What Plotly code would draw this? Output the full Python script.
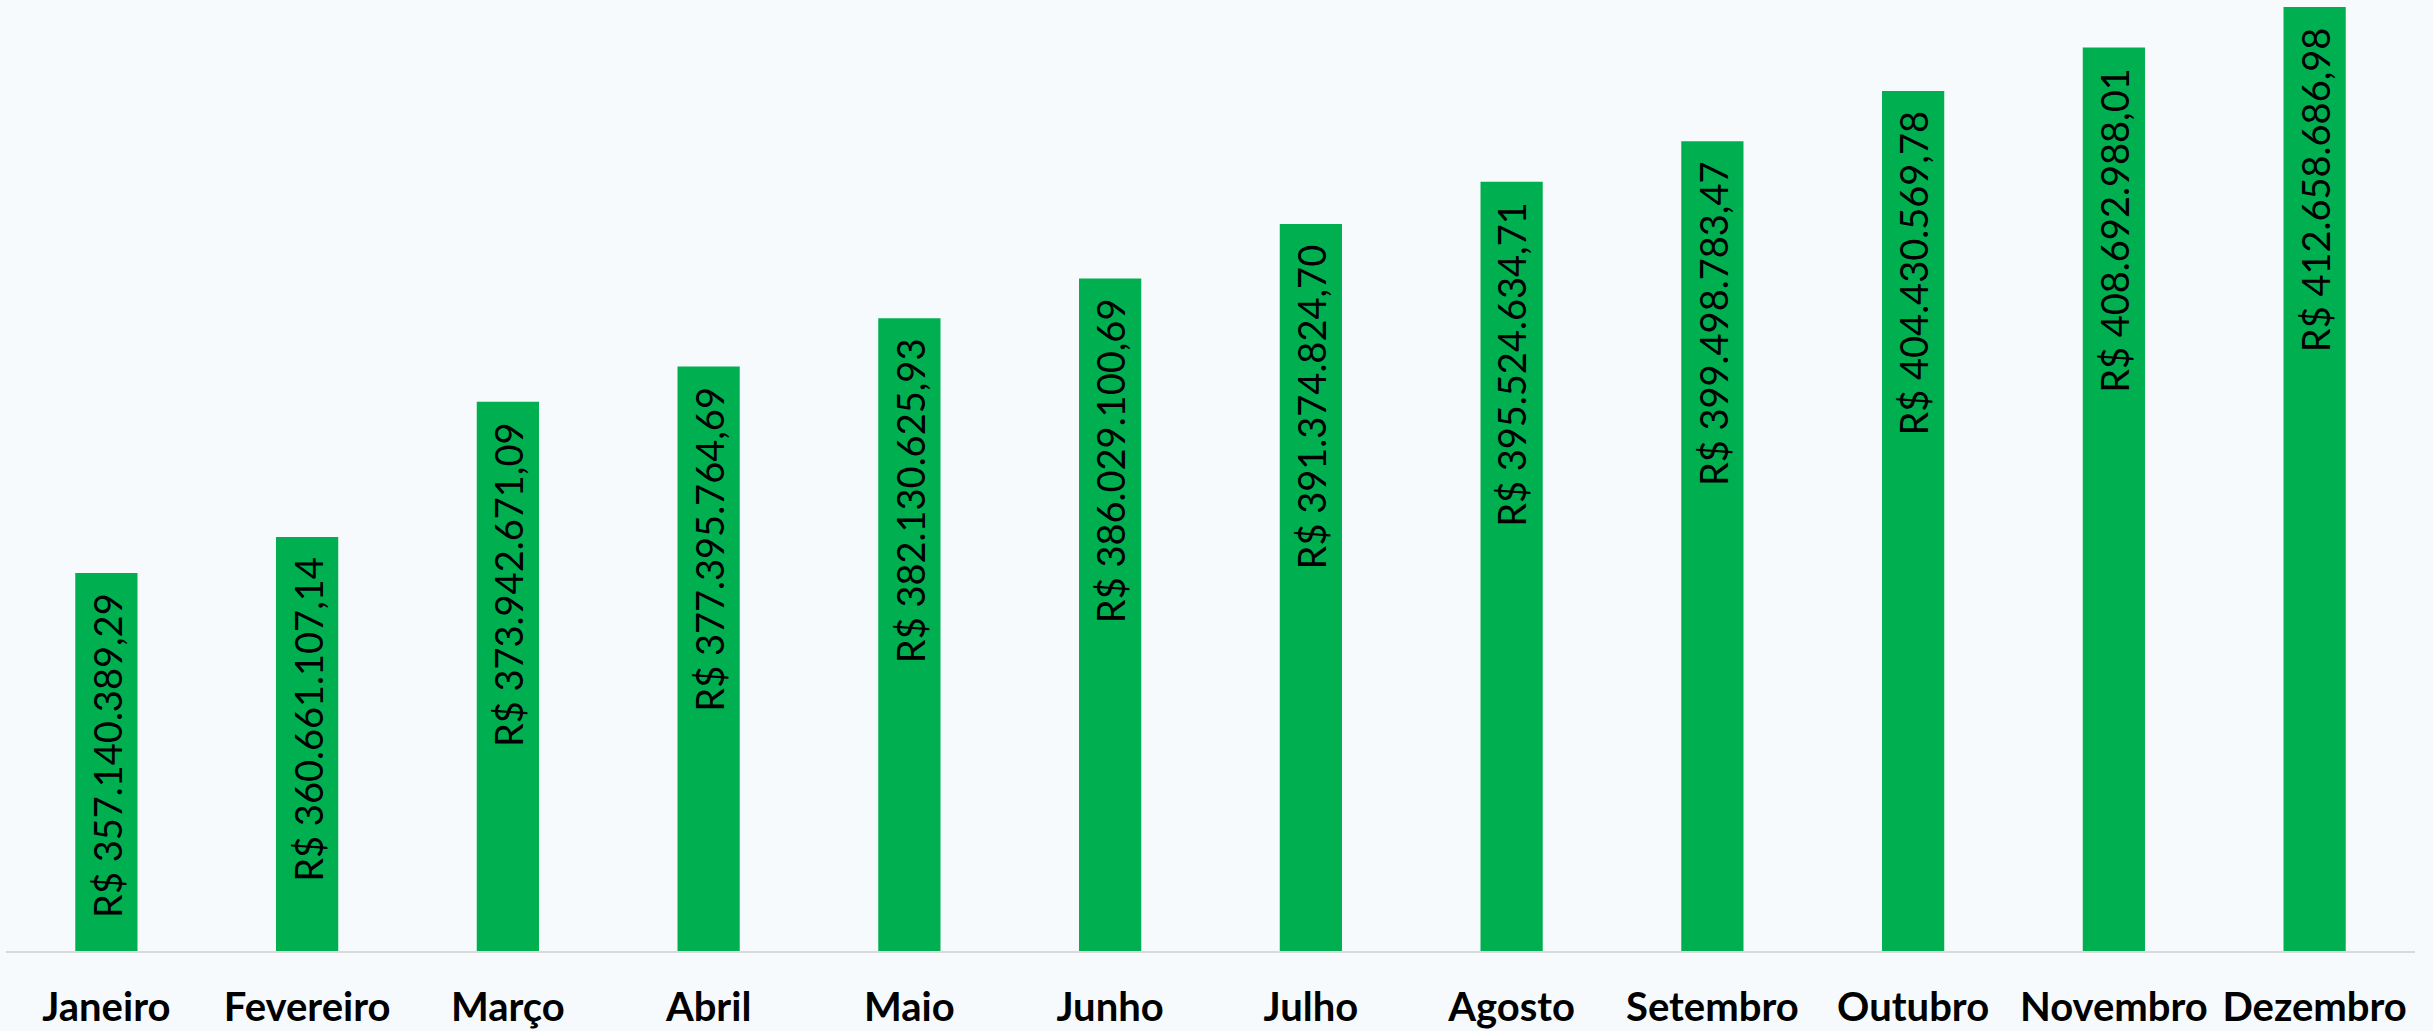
import plotly.graph_objects as go

meses = ["Janeiro", "Fevereiro", "Março", "Abril", "Maio", "Junho",
         "Julho", "Agosto", "Setembro", "Outubro", "Novembro", "Dezembro"]
valores = [357140389.29, 360661107.14, 373942671.09, 377395764.69,
           382130625.93, 386029100.69, 391374824.70, 395524634.71,
           399498783.47, 404430569.78, 408692988.01, 412658686.98]


def brl(v):
    s = f"{v:,.2f}".replace(",", "X").replace(".", ",").replace("X", ".")
    return "R$ " + s


rotulos = [brl(v) for v in valores]

fig = go.Figure()
fig.add_trace(go.Bar(
    x=meses, y=valores, marker=dict(color="#00b050", line=dict(width=0)),
    hoverinfo="skip",
))

for m, v, t in zip(meses, valores, rotulos):
    fig.add_annotation(
        x=m, y=v, text=t, textangle=-90, showarrow=False,
        xanchor="center", yanchor="top", yshift=-18,
        font=dict(family="Lato", size=38, color="#000000"),
    )

fig.update_layout(
    width=2433, height=1031,
    margin=dict(l=6, r=18, t=0, b=80),
    paper_bgcolor="#f6fafd", plot_bgcolor="rgba(0,0,0,0)",
    bargap=0.69, showlegend=False,
    xaxis=dict(
        showline=True, linecolor="#d9d9d9", linewidth=2, ticks="",
        showgrid=False, tickfont=dict(family="Lato", size=40, color="#000000"),
        ticklabelstandoff=20,
    ),
    yaxis=dict(
        range=[320060000, 413350000], visible=False, showgrid=False,
    ),
)
fig.update_xaxes(tickprefix="<b>", ticksuffix="</b>")

fig.write_html(
    "out.html",
    config={"displayModeBar": False},
    post_script="document.body.style.margin='0';document.body.style.overflow='hidden';",
)
